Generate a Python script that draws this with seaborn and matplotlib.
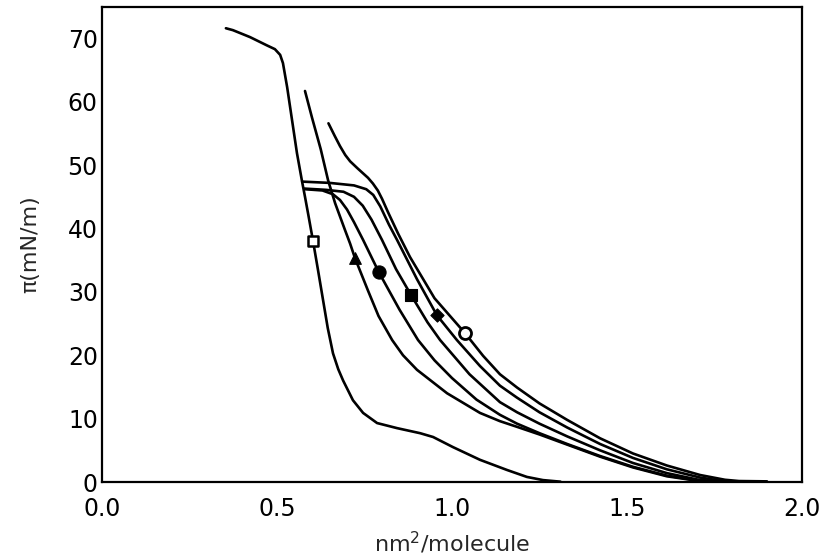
import numpy as np
import pandas as pd
import matplotlib
matplotlib.use("Agg")
import matplotlib.pyplot as plt
from matplotlib.ticker import MultipleLocator
import seaborn as sns

# ---------------- data ----------------
sq_x = [0.354, 0.374, 0.423, 0.471, 0.494, 0.509, 0.517, 0.529, 0.543, 0.557, 0.571, 0.58, 0.59,
        0.603, 0.617, 0.631, 0.645, 0.66, 0.675, 0.689, 0.717, 0.746, 0.786, 0.843, 0.909, 0.946,
        1.003, 1.08, 1.157, 1.214, 1.26, 1.31]
sq_y = [71.6, 71.3, 70.2, 68.9, 68.3, 67.4, 66.1, 62.3, 57.1, 51.9, 47.6, 45.0, 42.0,
        38.0, 33.5, 28.9, 24.3, 20.3, 17.8, 16.0, 12.9, 10.9, 9.3, 8.5, 7.7, 7.1,
        5.5, 3.5, 1.9, 0.8, 0.3, 0.05]

tr_x = [0.58, 0.60, 0.625, 0.646, 0.666, 0.694, 0.709, 0.723, 0.76, 0.79, 0.829, 0.86, 0.9,
        0.986, 1.08, 1.137, 1.186, 1.25, 1.329, 1.423, 1.517, 1.614, 1.7, 1.75]
tr_y = [61.7, 57.5, 52.5, 47.6, 44.0, 39.8, 37.6, 35.3, 30.2, 26.2, 22.4, 20.0, 17.7,
        14.0, 10.9, 9.6, 8.7, 7.5, 5.9, 4.0, 2.3, 0.9, 0.2, 0.05]

fc_x = [0.58, 0.63, 0.66, 0.68, 0.70, 0.72, 0.746, 0.791, 0.85, 0.903, 0.95, 1.0, 1.07, 1.137,
        1.186, 1.25, 1.329, 1.423, 1.517, 1.614, 1.7, 1.74]
fc_y = [46.2, 46.0, 45.4, 44.5, 43.0, 41.0, 38.2, 33.1, 27.2, 22.4, 19.2, 16.4, 13.0, 10.6,
        9.2, 7.7, 6.0, 4.1, 2.4, 1.0, 0.25, 0.05]

fs_x = [0.578, 0.64, 0.69, 0.72, 0.745, 0.77, 0.80, 0.84, 0.883, 0.93, 0.966, 1.05, 1.137,
        1.186, 1.25, 1.329, 1.423, 1.517, 1.614, 1.7, 1.76]
fs_y = [46.3, 46.1, 45.8, 45.0, 43.6, 41.4, 38.2, 33.6, 29.5, 25.2, 22.4, 17.0, 12.6,
        11.0, 9.2, 7.2, 5.0, 3.0, 1.4, 0.4, 0.05]

dm_x = [0.572, 0.65, 0.72, 0.755, 0.775, 0.795, 0.82, 0.843, 0.90, 0.957, 1.014, 1.08, 1.137,
        1.186, 1.25, 1.329, 1.423, 1.517, 1.614, 1.709, 1.78]
dm_y = [47.4, 47.2, 46.8, 46.2, 45.3, 43.5, 40.6, 38.2, 32.0, 26.3, 22.4, 18.3, 15.2,
        13.3, 11.0, 8.6, 6.0, 3.8, 2.0, 0.7, 0.1]

oc_x = [0.647, 0.665, 0.68, 0.695, 0.709, 0.73, 0.746, 0.76, 0.774, 0.788, 0.80, 0.817, 0.846,
        0.88, 0.95, 1.037, 1.089, 1.137, 1.186, 1.25, 1.329, 1.423, 1.517, 1.614, 1.709, 1.78,
        1.82, 1.9]
oc_y = [56.6, 54.6, 53.0, 51.6, 50.6, 49.5, 48.7, 48.0, 47.1, 46.0, 44.7, 42.6, 39.2,
        35.5, 29.0, 23.5, 19.9, 17.0, 14.9, 12.4, 9.8, 6.9, 4.5, 2.6, 1.1, 0.35,
        0.15, 0.1]

# marker positions on each isotherm
mark_x = [0.603, 0.723, 0.791, 0.883, 0.957, 1.037]
mark_y = [38.0, 35.3, 33.1, 29.5, 26.3, 23.5]

x_ticks = [0.0, 0.5, 1.0, 1.5, 2.0]
x_tick_labels = ["0.0", "0.5", "1.0", "1.5", "2.0"]
y_ticks = [0, 10, 20, 30, 40, 50, 60, 70]

# ---------------- plotting ----------------
sns.set_style("white")
plt.rcParams["font.family"] = ["DejaVu Sans"]

fig = plt.figure(figsize=(8.23, 5.59), dpi=100)
ax = fig.add_axes([102 / 823, 1 - 482 / 559, 700 / 823, (482 - 6.7) / 559])

curves = [(sq_x, sq_y), (tr_x, tr_y), (fc_x, fc_y), (fs_x, fs_y), (dm_x, dm_y), (oc_x, oc_y)]
for cx, cy in curves:
    df = pd.DataFrame({"x": cx, "y": cy})
    sns.lineplot(data=df, x="x", y="y", ax=ax, color="black", linewidth=1.9,
                 sort=False, estimator=None)

marker_styles = [
    ("s", 55, "white", 1.8),
    ("^", 70, "black", 0.8),
    ("o", 90, "black", 0.8),
    ("s", 85, "black", 0.8),
    ("D", 45, "black", 0.8),
    ("o", 75, "white", 2.0),
]
for (mx, my), (m, s, fc, lw) in zip(zip(mark_x, mark_y), marker_styles):
    sns.scatterplot(x=[mx], y=[my], ax=ax, marker=m, s=s, color=fc,
                    edgecolor="black", linewidth=lw, zorder=5)

ax.set_xlim(0, 2.0)
ax.set_ylim(0, 75)
ax.set_xticks(x_ticks)
ax.set_xticklabels(x_tick_labels)
ax.set_yticks(y_ticks)
ax.xaxis.set_minor_locator(MultipleLocator(0.1))
ax.yaxis.set_minor_locator(MultipleLocator(2))
ax.tick_params(axis="both", which="major", direction="in", length=8, width=1.3,
               labelsize=17, pad=3, colors="black")
ax.tick_params(axis="both", which="minor", direction="in", length=3.5, width=1.1)
ax.tick_params(top=False, right=False, which="both")
ax.tick_params(axis="x", which="major", pad=11)

for sp in ax.spines.values():
    sp.set_visible(True)
    sp.set_linewidth(1.6)
    sp.set_color("black")

ax.set_xlabel("nm$^2$/molecule", fontsize=16, labelpad=6)
ax.set_ylabel("π(mN/m)", fontsize=16, labelpad=20)

fig.savefig("out.png", dpi=100, facecolor="white")
